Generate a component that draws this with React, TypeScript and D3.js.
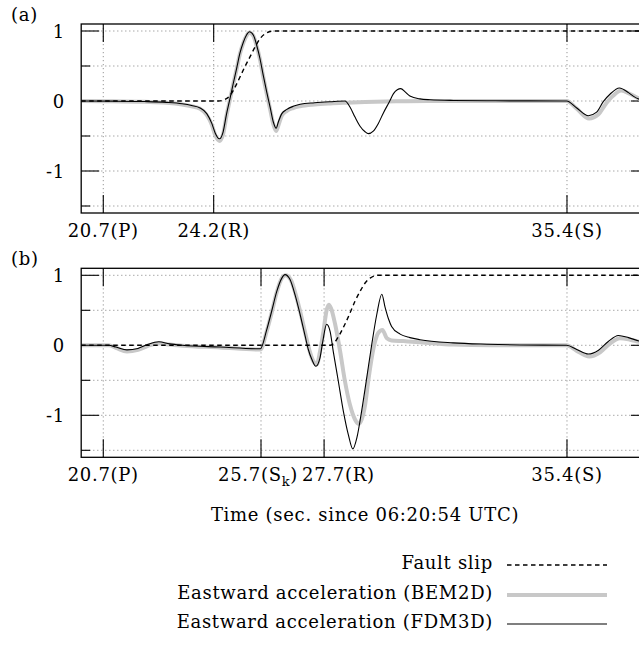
import React, { useEffect, useRef } from 'react';
import * as d3 from 'd3';

type Pt = [number, number];

const W = 639;
const H = 648;

const xDomain: [number, number] = [20, 38];
const yDomain: [number, number] = [-1.6, 1.1];
const yGrid = [-1.5, -1, -0.5, 0, 0.5, 1];
const yMajor = [-1, 0, 1];
const yMinor = [-1.5, -0.5, 0.5];

const ticksA = [20.7, 24.2, 35.4];
const labelsA = ['20.7(P)', '24.2(R)', '35.4(S)'];
const ticksB = [20.7, 25.7, 27.7, 35.4];
const labelsB = ['20.7(P)', '25.7(S_k)', '27.7(R)', '35.4(S)'];

// panel (a)
const fdmA: Pt[] = [
  [20, 0], [21, -0.002], [22, -0.008], [22.7, -0.02], [23.2, -0.04], [23.5, -0.065], [23.77, -0.1],
  [23.98, -0.18], [24.14, -0.32], [24.25, -0.46], [24.38, -0.54], [24.5, -0.44], [24.61, -0.18],
  [24.72, 0.04], [24.82, 0.25], [24.93, 0.47], [25.03, 0.68], [25.14, 0.84], [25.25, 0.95],
  [25.33, 0.99], [25.46, 0.94], [25.56, 0.8], [25.67, 0.6], [25.77, 0.37], [25.88, 0.13],
  [25.99, -0.09], [26.09, -0.3], [26.18, -0.39], [26.25, -0.3], [26.36, -0.18], [26.52, -0.12],
  [26.72, -0.076], [26.94, -0.047], [27.4, -0.025], [27.9, -0.01], [28.36, 0], [28.52, -0.085],
  [28.68, -0.23], [28.84, -0.36], [29.0, -0.44], [29.1, -0.466], [29.26, -0.43], [29.42, -0.32],
  [29.58, -0.17], [29.77, -0.01], [29.9, 0.105], [30.02, 0.16], [30.13, 0.177], [30.27, 0.13],
  [30.42, 0.07], [30.74, 0.03], [31.06, 0.018], [31.8, 0.008], [33, 0.003], [35.39, 0],
  [35.71, -0.1], [36.08, -0.21], [36.34, -0.16], [36.55, -0.01], [36.77, 0.1], [37.06, 0.186],
  [37.35, 0.12], [37.5, 0.07], [37.69, 0.024], [38, -0.01],
];
const bemA: Pt[] = [
  [20, 0], [21, -0.003], [22, -0.012], [22.7, -0.025], [23.2, -0.05], [23.5, -0.075], [23.77, -0.11],
  [23.98, -0.2], [24.14, -0.34], [24.25, -0.49], [24.38, -0.57], [24.5, -0.47], [24.61, -0.2],
  [24.72, 0.03], [24.82, 0.24], [24.93, 0.46], [25.03, 0.67], [25.14, 0.83], [25.25, 0.94],
  [25.33, 0.98], [25.46, 0.93], [25.56, 0.79], [25.67, 0.59], [25.77, 0.35], [25.88, 0.11],
  [25.99, -0.12], [26.09, -0.33], [26.18, -0.43], [26.25, -0.35], [26.36, -0.21], [26.52, -0.14],
  [26.72, -0.1], [26.94, -0.075], [27.4, -0.05], [27.9, -0.035], [28.4, -0.025], [29, -0.015],
  [30, -0.005], [31, 0], [35.39, 0], [35.71, -0.11], [36.1, -0.25], [36.4, -0.19], [36.6, -0.06],
  [36.85, 0.07], [37.12, 0.15], [37.4, 0.1], [37.69, 0.035], [38, 0],
];
const slipA: Pt[] = [
  [20, 0], [24.35, 0], [24.55, 0.02], [24.72, 0.08], [24.88, 0.2], [25.03, 0.34], [25.19, 0.49],
  [25.35, 0.63], [25.51, 0.77], [25.67, 0.89], [25.83, 0.96], [26.1, 1.0], [38, 1],
];

// panel (b)
const fdmB: Pt[] = [
  [20, 0], [20.87, 0], [21.1, -0.025], [21.45, -0.066], [21.8, -0.045], [22.1, 0.01], [22.46, 0.05],
  [22.8, 0.02], [23.2, 0], [24.4, -0.025], [25.68, -0.05], [25.88, 0.22], [26.04, 0.49],
  [26.2, 0.77], [26.36, 0.96], [26.46, 1.01], [26.62, 0.94], [26.78, 0.72], [26.94, 0.44],
  [27.1, 0.13], [27.2, -0.06], [27.31, -0.2], [27.44, -0.3], [27.57, -0.18], [27.66, 0.06],
  [27.78, 0.3], [27.89, 0.2], [27.99, -0.086], [28.15, -0.51], [28.31, -0.94], [28.47, -1.28],
  [28.61, -1.48], [28.74, -1.32], [28.89, -0.94], [29.05, -0.47], [29.21, 0.01], [29.37, 0.44],
  [29.53, 0.73], [29.63, 0.55], [29.74, 0.38], [29.84, 0.27], [30.11, 0.16], [30.42, 0.11],
  [30.74, 0.08], [31.79, 0.034], [32.86, 0.015], [33.91, 0.005], [35.39, 0], [35.71, -0.06],
  [36.08, -0.125], [36.4, -0.07], [36.7, 0.05], [37.03, 0.14], [37.35, 0.11], [37.69, 0.06], [38, 0.03],
];
const bemB: Pt[] = [
  [20, 0], [20.87, 0], [21.1, -0.035], [21.45, -0.09], [21.8, -0.065], [22.1, -0.01], [22.46, 0.03],
  [22.8, 0.01], [23.2, -0.005], [24.4, -0.03], [25.68, -0.06], [25.88, 0.2], [26.04, 0.47],
  [26.2, 0.76], [26.36, 0.96], [26.48, 1.0], [26.65, 0.93], [26.81, 0.71], [26.97, 0.43],
  [27.13, 0.12], [27.24, -0.08], [27.35, -0.22], [27.47, -0.27], [27.57, -0.09], [27.68, 0.2],
  [27.78, 0.5], [27.85, 0.58], [27.92, 0.53], [28.05, 0.3], [28.21, -0.09], [28.36, -0.51],
  [28.52, -0.85], [28.68, -1.06], [28.79, -1.12], [28.89, -1.06], [29.0, -0.85], [29.1, -0.51],
  [29.21, -0.18], [29.32, 0.06], [29.42, 0.18], [29.55, 0.22], [29.69, 0.1], [29.84, 0.07],
  [30.21, 0.06], [30.74, 0.045], [31.79, 0.01], [33, 0.002], [35.39, 0], [35.71, -0.08],
  [36.11, -0.16], [36.45, -0.1], [36.75, 0.02], [37.08, 0.1], [37.4, 0.08], [37.69, 0.05], [38, 0.03],
];
const slipB: Pt[] = [
  [20, 0], [27.9, 0], [28.05, 0.05], [28.15, 0.12], [28.36, 0.3], [28.52, 0.46], [28.68, 0.63],
  [28.84, 0.77], [29.0, 0.89], [29.16, 0.96], [29.4, 1.0], [38, 1],
];

const legendLabels = ['Fault slip', 'Eastward acceleration (BEM2D)', 'Eastward acceleration (FDM3D)'];

const FONT = "'DejaVu Serif', serif";
const FS = 18;
const LS = 0.7;

export default function App() {
  const ref = useRef<SVGSVGElement>(null);

  useEffect(() => {
    const svg = d3.select(ref.current);
    svg.selectAll('*').remove();

    const left = 81.2;
    const right = 649;
    const x = d3.scaleLinear().domain(xDomain).range([left, right]);

    const addText = (sel: any, px: number, py: number, anchor: string) =>
      sel.append('text').attr('x', px).attr('y', py)
        .attr('text-anchor', anchor).attr('font-family', FONT).attr('font-size', FS)
        .attr('letter-spacing', LS);

    const drawPanel = (top: number, name: string, ticks: number[], labels: string[],
      bem: Pt[], fdm: Pt[], slip: Pt[], id: string) => {
      const bottom = top + 189;
      const y = d3.scaleLinear().domain(yDomain).range([bottom, top]);
      const g = svg.append('g');

      g.append('clipPath').attr('id', id)
        .append('rect').attr('x', left).attr('y', top).attr('width', right - left).attr('height', bottom - top);

      // grid
      g.selectAll('.hg').data(yGrid).enter().append('line')
        .attr('x1', left).attr('x2', right)
        .attr('y1', d => y(d)).attr('y2', d => y(d))
        .attr('stroke', '#8a8a8a').attr('stroke-width', 0.9).attr('stroke-dasharray', '1.2,2.8');
      g.selectAll('.vg').data(ticks).enter().append('line')
        .attr('x1', d => x(d)).attr('x2', d => x(d))
        .attr('y1', top).attr('y2', bottom)
        .attr('stroke', '#8a8a8a').attr('stroke-width', 0.9).attr('stroke-dasharray', '1.2,2.8');

      // ticks
      const tk = g.append('g').attr('stroke', '#000').attr('stroke-width', 1.1);
      yMajor.forEach(v => {
        tk.append('line').attr('x1', left).attr('x2', left + 18).attr('y1', y(v)).attr('y2', y(v));
        tk.append('line').attr('x1', right - 18).attr('x2', right).attr('y1', y(v)).attr('y2', y(v));
      });
      yMinor.forEach(v => {
        tk.append('line').attr('x1', left).attr('x2', left + 9).attr('y1', y(v)).attr('y2', y(v));
        tk.append('line').attr('x1', right - 9).attr('x2', right).attr('y1', y(v)).attr('y2', y(v));
      });
      ticks.forEach(t => {
        tk.append('line').attr('x1', x(t)).attr('x2', x(t)).attr('y1', top).attr('y2', top + 18);
        tk.append('line').attr('x1', x(t)).attr('x2', x(t)).attr('y1', bottom - 18).attr('y2', bottom);
      });

      // curves
      const line = d3.line<Pt>().x(d => x(d[0])).y(d => y(d[1])).curve(d3.curveMonotoneX);
      const curves = g.append('g').attr('clip-path', `url(#${id})`);
      curves.append('path').attr('d', line(bem)).attr('fill', 'none')
        .attr('stroke', '#c8c8c8').attr('stroke-width', 4).attr('stroke-linejoin', 'round');
      curves.append('path').attr('d', line(fdm)).attr('fill', 'none')
        .attr('stroke', '#000').attr('stroke-width', 1.1).attr('stroke-linejoin', 'round');
      curves.append('path').attr('d', line(slip)).attr('fill', 'none')
        .attr('stroke', '#000').attr('stroke-width', 1.4).attr('stroke-dasharray', '4.5,3.5');

      // frame
      g.append('rect').attr('x', left).attr('y', top).attr('width', right - left).attr('height', bottom - top)
        .attr('fill', 'none').attr('stroke', '#000').attr('stroke-width', 1.3);

      // y labels
      yMajor.forEach(v => {
        addText(g, 65, y(v) + 6.5, 'end').text(String(v));
      });

      // x labels; crowded neighbours are pushed apart
      ticks.forEach((t, i) => {
        let anchor = 'middle';
        let px = x(t);
        const prev = ticks[i - 1];
        const next = ticks[i + 1];
        if (next !== undefined && next - t < 3) { anchor = 'end'; px = x(t) + 37; }
        if (prev !== undefined && t - prev < 3) { anchor = 'start'; px = x(t) - 22; }
        const txt = addText(g, px, bottom + 24, anchor);
        const lab = labels[i];
        const sub = lab.indexOf('_');
        if (sub < 0) {
          txt.text(lab);
        } else {
          txt.append('tspan').text(lab.slice(0, sub));
          txt.append('tspan').attr('font-size', 13).attr('dy', 5).text(lab.slice(sub + 1, sub + 2));
          txt.append('tspan').attr('dy', -5).text(lab.slice(sub + 2));
        }
      });

      // panel name
      addText(g, 11, top - 3, 'start').text(name);
    };

    drawPanel(24, '(a)', ticksA, labelsA, bemA, fdmA, slipA, 'clipA');
    drawPanel(268.3, '(b)', ticksB, labelsB, bemB, fdmB, slipB, 'clipB');

    // axis title
    addText(svg, 365, 521, 'middle').text('Time (sec. since 06:20:54 UTC)');

    // legend
    const rowY = [569, 599, 628];
    const leg = svg.append('g');
    legendLabels.forEach((lab, i) => {
      addText(leg, 493, rowY[i], 'end').text(lab);
    });
    leg.append('line').attr('x1', 507).attr('x2', 607).attr('y1', rowY[0] - 4).attr('y2', rowY[0] - 4)
      .attr('stroke', '#000').attr('stroke-width', 1.4).attr('stroke-dasharray', '4.5,3.5');
    leg.append('line').attr('x1', 507).attr('x2', 607).attr('y1', rowY[1] - 4).attr('y2', rowY[1] - 4)
      .attr('stroke', '#c8c8c8').attr('stroke-width', 4);
    leg.append('line').attr('x1', 507).attr('x2', 607).attr('y1', rowY[2] - 4).attr('y2', rowY[2] - 4)
      .attr('stroke', '#000').attr('stroke-width', 1.1);
  }, []);

  return (
    <svg ref={ref} width={W} height={H}
      style={{ position: 'absolute', left: 0, top: 0, display: 'block', background: '#fff' }} />
  );
}
